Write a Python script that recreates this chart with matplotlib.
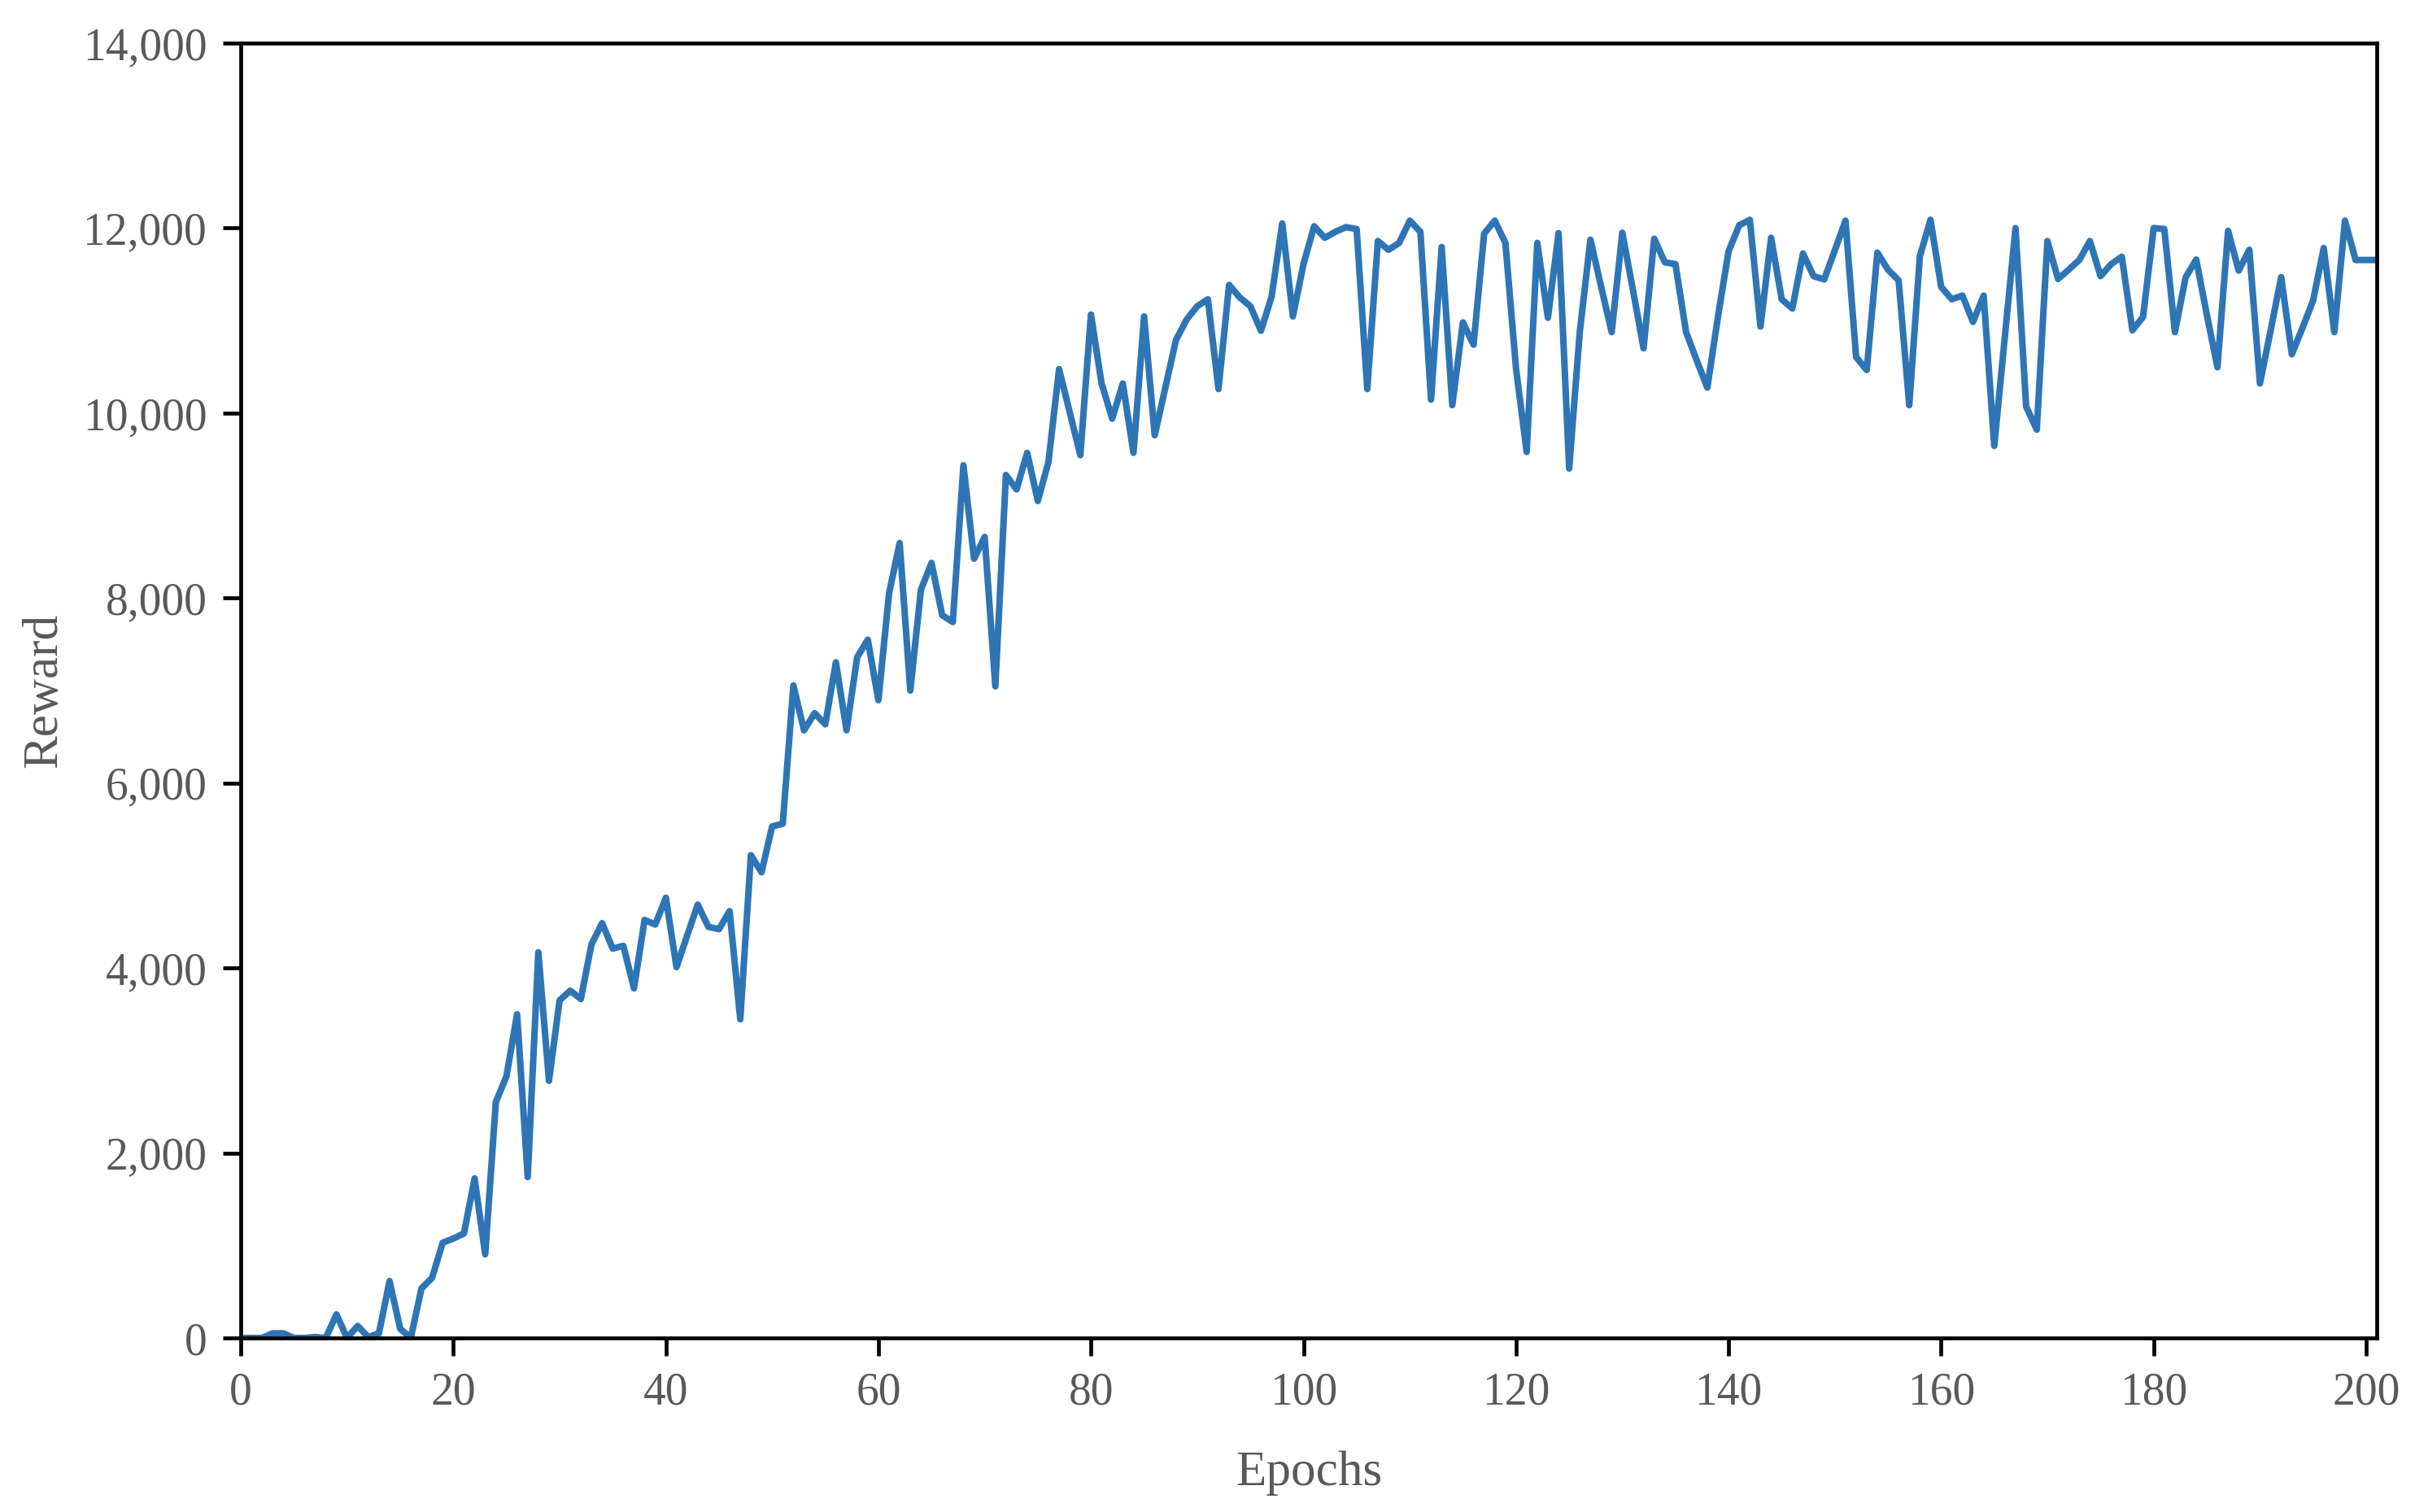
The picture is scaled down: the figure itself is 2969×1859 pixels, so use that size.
import numpy as np
import matplotlib
matplotlib.use("Agg")
import matplotlib.pyplot as plt
from matplotlib.ticker import FuncFormatter

# reward per epoch (epochs 0..201)
reward = [
    0, 0, 0, 50, 50, 0, 0, 10, 0, 255,
    0, 130, 10, 50, 615, 100, 0, 535, 650, 1030,
    1075, 1130, 1725, 905, 2550, 2830, 3500, 1740, 4170, 2780,
    3650, 3755, 3665, 4255, 4485, 4210, 4240, 3780, 4520, 4470,
    4760, 4010, 4350, 4685, 4445, 4420, 4615, 3445, 5220, 5035,
    5530, 5560, 7055, 6570, 6755, 6635, 7305, 6570, 7360, 7550,
    6895, 8050, 8595, 7000, 8090, 8380, 7815, 7740, 9435, 8425,
    8660, 7045, 9330, 9175, 9570, 9050, 9470, 10475, 10010, 9545,
    11065, 10320, 9940, 10320, 9570, 11045, 9760, 10275, 10790, 11010,
    11155, 11230, 10260, 11385, 11250, 11155, 10890, 11260, 12050, 11045,
    11610, 12020, 11895, 11960, 12010, 11990, 10260, 11860, 11765, 11840,
    12080, 11960, 10145, 11795, 10085, 10980, 10740, 11940, 12080, 11840,
    10480, 9580, 11840, 11030, 11945, 9400, 10880, 11875, 11370, 10875,
    11950, 11330, 10700, 11885, 11630, 11610, 10875, 10570, 10275, 11040,
    11750, 12030, 12090, 10935, 11895, 11230, 11130, 11725, 11480, 11445,
    11760, 12080, 10605, 10465, 11735, 11550, 11435, 10085, 11695, 12090,
    11365, 11230, 11270, 10985, 11270, 9645, 10830, 12000, 10070, 9820,
    11860, 11450, 11550, 11655, 11860, 11480, 11610, 11690, 10895, 11040,
    12000, 11990, 10875, 11465, 11660, 11065, 10495, 11970, 11540, 11765,
    10320, 10890, 11470, 10635, 10920, 11215, 11785, 10875, 12080, 11655,
    11655, 11655,
]
epochs = np.arange(len(reward))

x_ticks = [0, 20, 40, 60, 80, 100, 120, 140, 160, 180, 200]
y_ticks = [0, 2000, 4000, 6000, 8000, 10000, 12000, 14000]

plt.rcParams['font.family'] = ['Liberation Serif', 'DejaVu Serif']

fig = plt.figure(figsize=(14.845, 9.295), dpi=200)
ax = fig.add_axes([0.0997, 0.1151, 0.8845, 0.8564])

ax.plot(epochs, reward, color='#2e75b6', linewidth=2.9,
        solid_joinstyle='round', solid_capstyle='round')

ax.set_xlim(0, 201)
ax.set_ylim(0, 14000)
ax.set_xticks(x_ticks)
ax.set_yticks(y_ticks)
ax.yaxis.set_major_formatter(FuncFormatter(lambda v, _: f'{int(v):,}'))

for s in ax.spines.values():
    s.set_linewidth(1.7)
    s.set_color('black')

ax.tick_params(axis='both', direction='out', length=8, width=1.7,
               labelsize=20, labelcolor='#595959', pad=7)

ax.set_xlabel('Epochs', fontsize=22, color='#595959', labelpad=16)
ax.set_ylabel('Reward', fontsize=22, color='#595959', labelpad=7)

fig.savefig('out.png', dpi=200, facecolor='white')
